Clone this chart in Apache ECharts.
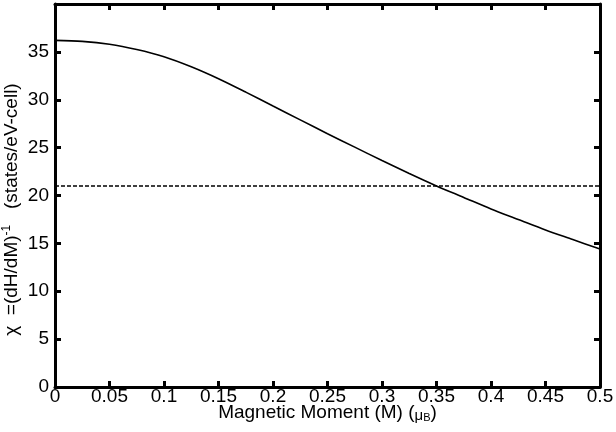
<!DOCTYPE html>
<html>
<head>
<meta charset="utf-8">
<script src="https://cdn.jsdelivr.net/npm/echarts@6/dist/echarts.min.js"></script>
<style>
html,body{margin:0;padding:0;background:#fff;}
#chart{width:616px;height:432px;}
</style>
</head>
<body>
<div id="chart"></div>
<script>
// Magnetic moment M (mu_B)
const moment = [0, 0.025, 0.05, 0.075, 0.1, 0.125, 0.15, 0.175, 0.2, 0.225, 0.25,
                0.275, 0.3, 0.325, 0.35, 0.375, 0.4, 0.425, 0.45, 0.475, 0.5];
// chi = (dH/dM)^-1 (states/eV-cell)
const chi = [36.2, 36.1, 35.8, 35.25, 34.5, 33.45, 32.2, 30.8, 29.35, 27.9, 26.45,
             25.05, 23.65, 22.3, 21.0, 19.8, 18.6, 17.5, 16.4, 15.4, 14.4];
// horizontal reference level
const refLevel = 21;
const xRange = [0, 0.5];
const yRange = [0, 40];

const FONT = '"Liberation Sans", Arial, Helvetica, sans-serif';
const chart = echarts.init(document.getElementById('chart'), null, {renderer: 'canvas'});

const axisLineStyle = {show: true, onZero: false, lineStyle: {color: '#000', width: 3}};
const tickStyle = {show: true, inside: true, length: 6, lineStyle: {color: '#000', width: 3}};

chart.setOption({
  animation: false,
  backgroundColor: '#fff',
  grid: {left: 55, right: 16, top: 4, bottom: 45, containLabel: false, outerBoundsMode: 'none'},
  xAxis: [
    {
      type: 'value', min: xRange[0], max: xRange[1], interval: 0.05, position: 'bottom',
      axisLine: axisLineStyle, axisTick: tickStyle, splitLine: {show: false},
      axisLabel: {
        color: '#000', fontFamily: FONT, fontSize: 19, margin: 0,
        formatter: v => String(+v.toFixed(2))
      },
      name: 'Magnetic Moment (M) ({mu|μ}{sub|B})',
      nameLocation: 'middle', nameGap: 16, nameMoveOverlap: false,
      nameTextStyle: {
        color: '#000', fontFamily: FONT, fontSize: 19, lineHeight: 20,
        rich: {
          mu: {fontFamily: FONT, fontSize: 15, color: '#000', lineHeight: 20, verticalAlign: 'bottom'},
          sub: {fontFamily: FONT, fontSize: 11, color: '#000', lineHeight: 12, verticalAlign: 'bottom'}
        }
      }
    },
    {
      type: 'value', min: xRange[0], max: xRange[1], interval: 0.05, position: 'top',
      axisLine: axisLineStyle, axisTick: tickStyle, axisLabel: {show: false}, splitLine: {show: false}
    }
  ],
  yAxis: [
    {
      type: 'value', min: yRange[0], max: yRange[1], interval: 5, position: 'left',
      axisLine: axisLineStyle, axisTick: tickStyle, splitLine: {show: false},
      axisLabel: {
        color: '#000', fontFamily: FONT, fontSize: 19, margin: 6, showMaxLabel: false,
        formatter: v => v >= 40 ? '' : String(v)
      },
      name: 'χ  =(dH/dM){sup|-1}   (states/eV-cell)',
      nameLocation: 'middle', nameGap: 32, nameRotate: 90, nameMoveOverlap: false,
      nameTextStyle: {
        color: '#000', fontFamily: FONT, fontSize: 19, lineHeight: 22,
        padding: [0, 28, 0, 0],
        rich: {
          sup: {fontFamily: FONT, fontSize: 12, color: '#000', lineHeight: 12, verticalAlign: 'top'}
        }
      }
    },
    {
      type: 'value', min: yRange[0], max: yRange[1], interval: 5, position: 'right',
      axisLine: axisLineStyle, axisTick: tickStyle, axisLabel: {show: false}, splitLine: {show: false}
    }
  ],
  series: [
    {
      type: 'line', xAxisIndex: 0, yAxisIndex: 0,
      data: moment.map((m, i) => [m, chi[i]]),
      smooth: 0.3, showSymbol: false, symbol: 'none',
      lineStyle: {color: '#000', width: 1.6}
    },
    {
      type: 'line', xAxisIndex: 0, yAxisIndex: 0,
      data: xRange.map(x => [x, refLevel]),
      showSymbol: false, symbol: 'none',
      lineStyle: {color: '#000', width: 1.6, type: [4, 2]}
    }
  ]
});
</script>
</body>
</html>
